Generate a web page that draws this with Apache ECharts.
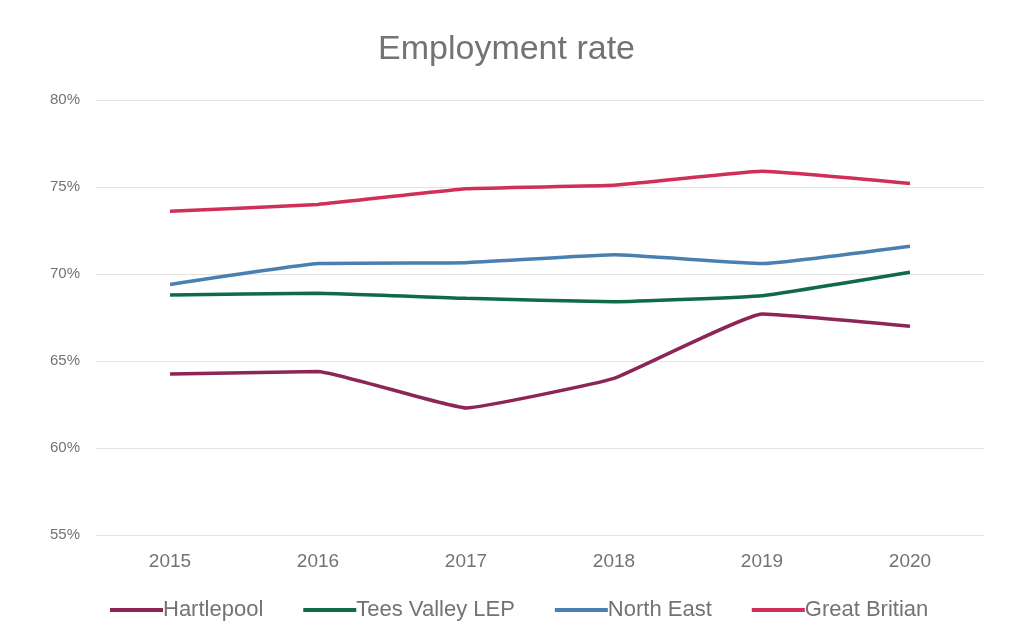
<!DOCTYPE html>
<html>
<head>
<meta charset="utf-8">
<script src="https://cdn.jsdelivr.net/npm/echarts@6/dist/echarts.min.js"></script>
<style>
html,body{margin:0;padding:0;background:#fff;}
#chart{width:1013px;height:641px;}
</style>
</head>
<body>
<div id="chart"></div>
<script>
const years = ['2015','2016','2017','2018','2019','2020'];
const hartlepool = [64.25, 64.4, 62.3, 64.0, 67.7, 67.0];
const teesValley = [68.8, 68.9, 68.6, 68.4, 68.75, 70.1];
const northEast = [69.4, 70.6, 70.65, 71.1, 70.6, 71.6];
const greatBritain = [73.6, 74.0, 74.9, 75.1, 75.9, 75.2];
const yTicks = [55, 60, 65, 70, 75, 80];

const names = ['Hartlepool', 'Tees Valley LEP', 'North East', 'Great Britian'];
const colors = ['#8c2656', '#0f6b45', '#4a7fb2', '#cf2f58'];
const seriesData = [hartlepool, teesValley, northEast, greatBritain];

const sans = '"Liberation Sans", Arial';
const chart = echarts.init(document.getElementById('chart'));
chart.setOption({
  animation: false,
  title: {
    text: 'Employment rate',
    left: 'center',
    top: 28,
    textStyle: { fontFamily: sans, fontSize: 34, fontWeight: 'normal', color: '#737373' }
  },
  legend: {
    top: 594,
    left: 105,
    itemWidth: 53,
    itemHeight: 4,
    itemGap: 40,
    icon: 'rect',
    textStyle: { fontFamily: sans, fontSize: 22, color: '#737373', padding: [0,0,0,-5] },
    data: names
  },
  grid: { left: 96, right: 29, top: 100, bottom: 106 },
  xAxis: {
    type: 'category',
    data: years,
    boundaryGap: true,
    axisLine: { show: true, lineStyle: { color: '#e3e3e3' } },
    axisTick: { show: false },
    axisLabel: { margin: 17, fontFamily: sans, fontSize: 19, color: '#737373' }
  },
  yAxis: {
    type: 'value',
    min: yTicks[0],
    max: yTicks[yTicks.length - 1],
    interval: 5,
    axisLine: { show: false },
    axisTick: { show: false },
    splitLine: { lineStyle: { color: '#e3e3e3', width: 1 } },
    axisLabel: { margin: 16, formatter: '{value}%', fontFamily: sans, fontSize: 15, color: '#737373' }
  },
  series: names.map((n, i) => ({
    name: n,
    type: 'line',
    data: seriesData[i],
    symbol: 'none',
    smooth: 0.1,
    color: colors[i],
    lineStyle: { width: 3.5, color: colors[i] }
  }))
});
</script>
</body>
</html>
